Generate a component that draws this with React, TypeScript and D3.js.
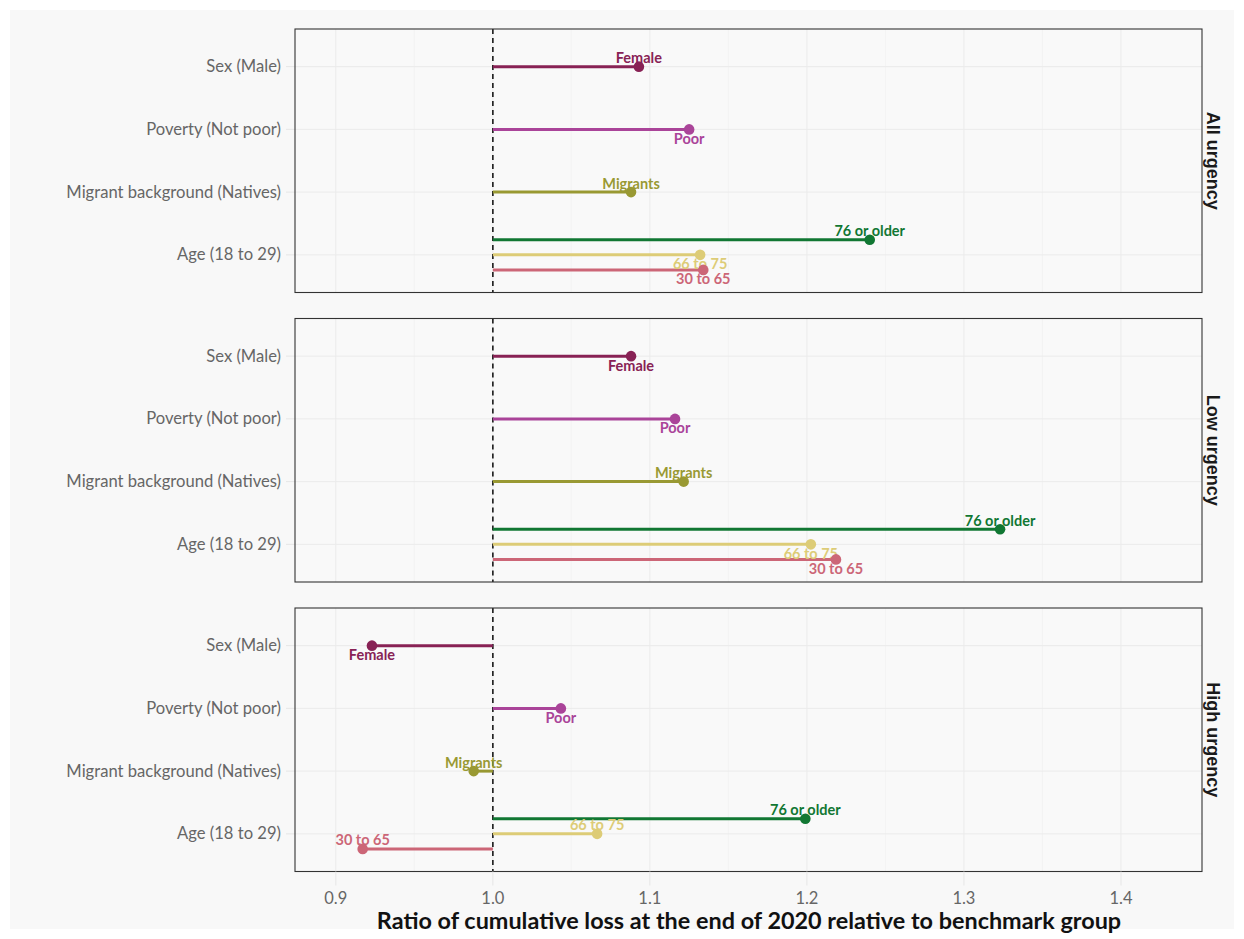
import React from "react";
import * as d3 from "d3";

const panels = ["All urgency", "Low urgency", "High urgency"];
const categories = ["Sex (Male)", "Poverty (Not poor)", "Migrant background (Natives)", "Age (18 to 29)"];
const groups = ["Female", "Poor", "Migrants", "76 or older", "66 to 75", "30 to 65"];
const groupCategory = [0, 1, 2, 3, 3, 3];
const groupDodge = [0, 0, 0, -1, 0, 1];
const groupColors = ["#882255", "#AA4499", "#999933", "#117733", "#DDCC77", "#CC6677"];
const allUrgency = [1.093, 1.125, 1.088, 1.24, 1.132, 1.134];
const lowUrgency = [1.088, 1.116, 1.1215, 1.323, 1.2025, 1.2185];
const highUrgency = [0.923, 1.0433, 0.9878, 1.199, 1.0664, 0.9171];
const panelValues = [allUrgency, lowUrgency, highUrgency];
const labelSide = [
  ["up", "down", "up", "up", "down", "down"],
  ["down", "down", "up", "up", "down", "down"],
  ["down", "down", "up", "up", "up", "up"],
];
const xTicks = [0.9, 1.0, 1.1, 1.2, 1.3, 1.4];
const xMinor = [0.95, 1.05, 1.15, 1.25, 1.35];
const reference = 1.0;

const W = 1244;
const H = 939;
const left = 295;
const right = 1202;
const panelTop = 29;
const panelH = 263.5;
const panelGap = 26;

export default function App() {
  const x = d3.scaleLinear().domain([0.874, 1.4516]).range([left, right]);
  const font = "Lato, 'Open Sans', sans-serif";
  return (
    <svg width={W} height={H} style={{ position: "absolute", left: 0, top: 0, background: "#ffffff" }}>
      <rect x={10} y={10} width={W - 20} height={H - 20} fill="#f8f8f8" />
      {panels.map((p, pi) => {
        const top = panelTop + pi * (panelH + panelGap);
        const bottom = top + panelH;
        const y = d3.scalePoint<string>().domain(categories).range([top, bottom]).padding(0.6);
        const step = y.step();
        const vals = panelValues[pi];
        const gy = (gi: number) => (y(categories[groupCategory[gi]]) as number) + groupDodge[gi] * step * 0.24;
        return (
          <g key={p}>
            <rect x={left} y={top} width={right - left} height={panelH} fill="#f9f9f9" />
            {xMinor.map((t) => (
              <line key={"m" + t} x1={x(t)} x2={x(t)} y1={top} y2={bottom} stroke="#f0f0f0" strokeWidth={0.7} />
            ))}
            {xTicks.map((t) => (
              <line key={"M" + t} x1={x(t)} x2={x(t)} y1={top} y2={bottom} stroke="#ebebeb" strokeWidth={1} />
            ))}
            {categories.map((c) => (
              <g key={c}>
                <line x1={left} x2={right} y1={y(c)} y2={y(c)} stroke="#ebebeb" strokeWidth={1} />
                <line x1={left - 9} x2={left} y1={y(c)} y2={y(c)} stroke="#e6e6e6" strokeWidth={1} />
                <text x={left - 14} y={(y(c) as number) + 5.5} textAnchor="end" fontFamily={font} fontSize={16.6} fill="#666666">
                  {c}
                </text>
              </g>
            ))}
            <line x1={x(reference)} x2={x(reference)} y1={top} y2={bottom} stroke="#1a1a1a" strokeWidth={1.6} strokeDasharray="5,4" />
            {groups.map((g, gi) => (
              <line key={"s" + g} x1={x(reference)} x2={x(vals[gi])} y1={gy(gi)} y2={gy(gi)} stroke={groupColors[gi]} strokeWidth={3} />
            ))}
            {groups.map((g, gi) => (
              <text
                key={"l" + g}
                x={x(vals[gi])}
                y={gy(gi) + (labelSide[pi][gi] === "up" ? -3.5 : 14.5)}
                textAnchor="middle"
                fontFamily={font}
                fontWeight="bold"
                fontSize={14.5}
                fill={groupColors[gi]}
              >
                {g}
              </text>
            ))}
            {groups.map((g, gi) => (
              <circle key={"c" + g} cx={x(vals[gi])} cy={gy(gi)} r={5.3} fill={groupColors[gi]} />
            ))}
            <rect x={left} y={top} width={right - left} height={panelH} fill="none" stroke="#333333" strokeWidth={1.1} />
            <text
              transform={`translate(${1213},${(top + bottom) / 2}) rotate(90)`}
              textAnchor="middle"
              dominantBaseline="central"
              fontFamily="'Liberation Sans', Arial, sans-serif"
              fontWeight="bold"
              fontSize={18}
              fill="#1a1a1a"
            >
              {p}
            </text>
          </g>
        );
      })}
      {xTicks.map((t) => {
        const yb = panelTop + 3 * panelH + 2 * panelGap;
        return (
          <g key={"t" + t}>
            <line x1={x(t)} x2={x(t)} y1={yb} y2={yb + 14} stroke="#e6e6e6" strokeWidth={1} />
            <text x={x(t)} y={yb + 32} textAnchor="middle" fontFamily={font} fontSize={16.5} fill="#666666">
              {t.toFixed(1)}
            </text>
          </g>
        );
      })}
      <text x={(left + right) / 2 + 0.5} y={928.5} textAnchor="middle" fontFamily={font} fontWeight="bold" fontSize={23.4} fill="#111">
        Ratio of cumulative loss at the end of 2020 relative to benchmark group
      </text>
    </svg>
  );
}
